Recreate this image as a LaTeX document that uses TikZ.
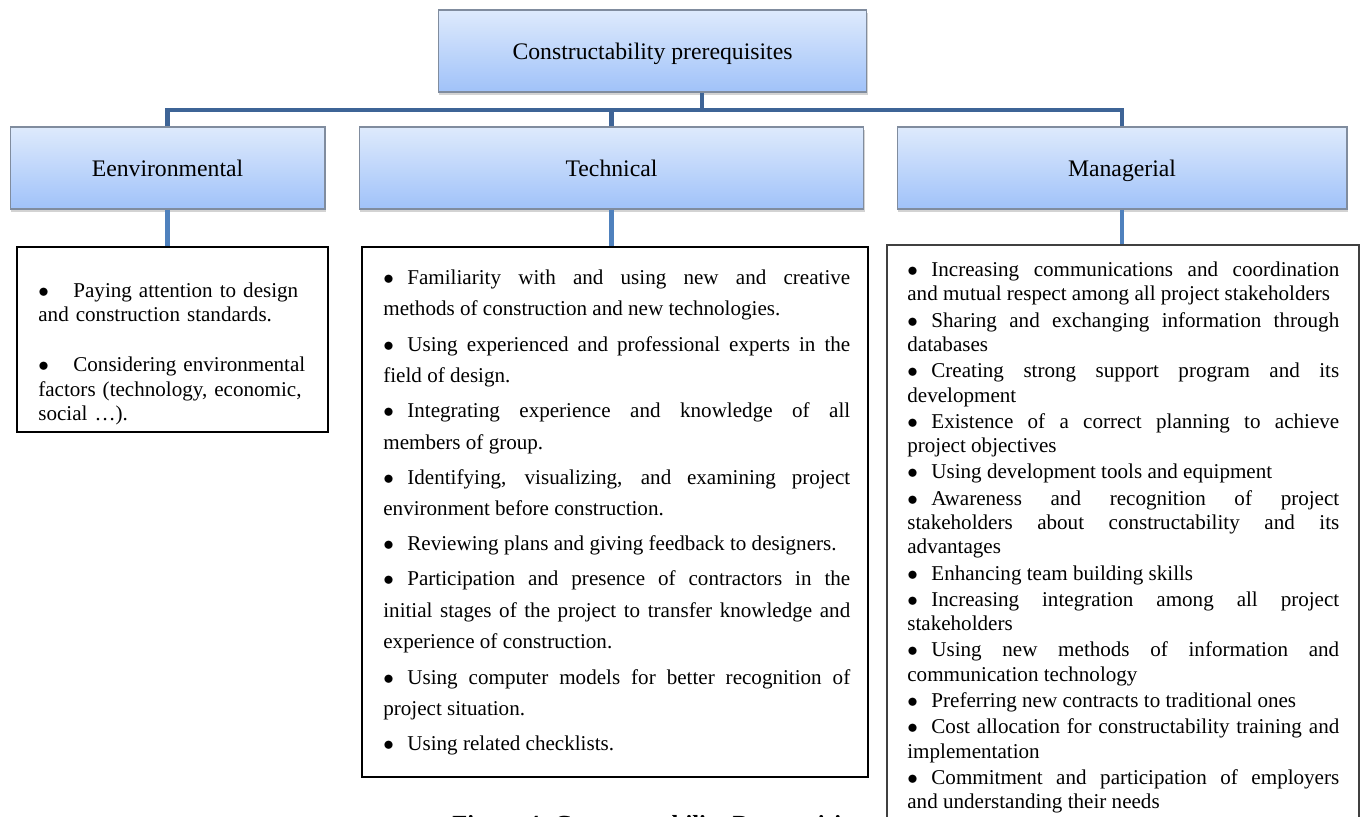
\documentclass[tikz,border=0pt]{standalone}
\usepackage{fontspec}
\setmainfont{Liberation Serif}
\usetikzlibrary{shadows}

\definecolor{boxtop}{RGB}{222,234,252}
\definecolor{boxbottom}{RGB}{160,194,249}
\definecolor{boxline}{RGB}{128,140,158}
\definecolor{busblue}{RGB}{62,100,150}
\definecolor{stemblue}{RGB}{79,129,189}

\newcommand{\bul}{$\bullet$\hspace{0.27cm}}

\begin{document}
\begin{tikzpicture}[x=0.02cm,y=-0.02cm,
    head/.style={draw=boxline, line width=0.6pt, top color=boxtop, bottom color=boxbottom,
      minimum height=1.64cm, font=\fontsize{13.5}{16}\selectfont, text height=9.3pt, text depth=0pt,
      drop shadow={opacity=0.35, shadow xshift=0.8pt, shadow yshift=-1.8pt}},
    listbox/.style={draw, line width=0.8pt, fill=white},
    listtext/.style={anchor=north west, inner sep=0pt},
    bus/.style={busblue, line width=2.8pt},
    stem/.style={stemblue, line width=2.8pt}]
  \clip (0,0) rectangle (1362,817);

  % headings
  \node[head, minimum width=8.58cm] (top) at (652.5,51) {Constructability prerequisites};
  \node[head, minimum width=6.3cm] (env) at (167.5,168) {Eenvironmental};
  \node[head, minimum width=10.1cm] (tech) at (611.5,168) {Technical};
  \node[head, minimum width=9cm] (mgr) at (1122,168) {Managerial};

  \coordinate (split) at (702,110);
  \draw[bus] (top.south -| split) -- (split);
  \draw[bus] (env.north) |- (split) -| (mgr.north);
  \draw[bus] (tech.north) -- (tech.north |- split);

  \node[font=\bfseries\fontsize{14}{16}\selectfont, anchor=base west, inner sep=0pt] (caption)
    at (452,832) {Figure 4. Constructability Prerequisites};

  % lists
  \node[listbox, minimum width=6.22cm, minimum height=3.7cm] (envlist) at (172.5,339.5) {};
  \node[listbox, minimum width=10.12cm, minimum height=10.6cm] (techlist) at (615,512) {};
  \node[listbox, draw=black!75, minimum width=9.44cm, minimum height=11.9cm] (mgrlist) at (1123,542.5) {};

  \draw[stem] (env.south) -- (env.south |- envlist.north);
  \draw[stem] (tech.south) -- (tech.south |- techlist.north);
  \draw[stem] (mgr.south) -- (mgr.south |- mgrlist.north);

  \node[listtext, text width=5.6cm, align=left, font=\fontsize{12}{13.8}\selectfont] (envtext) at (38,282.5)
    {$\bullet$\hspace{0.49cm}Paying attention to design\\
     and construction standards.\\[14.8pt]
     $\bullet$\hspace{0.49cm}Considering environmental\\
     factors (technology, economic,\\
     social …).};

  \node[listtext, text width=9.34cm, align=justify, font=\fontsize{12}{17.9}\selectfont] (techtext) at (383,269.5)
    {\parindent=0pt\parskip=2.1pt\hyphenpenalty=10000\tolerance=10000\hbadness=10000
     \bul Familiarity with and using new and creative\linebreak methods of construction and new technologies.\par
     \bul Using experienced and professional experts in the\linebreak field of design.\par
     \bul Integrating experience and knowledge of all\linebreak members of group.\par
     \bul Identifying, visualizing, and examining project\linebreak environment before construction.\par
     \bul Reviewing plans and giving feedback to designers.\par
     \bul Participation and presence of contractors in the\linebreak initial stages of the project to transfer knowledge and\linebreak experience of construction.\par
     \bul Using computer models for better recognition of\linebreak project situation.\par
     \bul Using related checklists.};

  \node[listtext, text width=8.64cm, align=justify, font=\fontsize{12}{13.9}\selectfont] (mgrtext) at (907,261.5)
    {\parindent=0pt\parskip=1pt\hyphenpenalty=10000\tolerance=10000\hbadness=10000
     \bul Increasing communications and coordination\linebreak and mutual respect among all project stakeholders\par
     \bul Sharing and exchanging information through\linebreak databases\par
     \bul Creating strong support program and its\linebreak development\par
     \bul Existence of a correct planning to achieve\linebreak project objectives\par
     \bul Using development tools and equipment\par
     \bul Awareness and recognition of project\linebreak stakeholders about constructability and its\linebreak advantages\par
     \bul Enhancing team building skills\par
     \bul Increasing integration among all project\linebreak stakeholders\par
     \bul Using new methods of information and\linebreak communication technology\par
     \bul Preferring new contracts to traditional ones\par
     \bul Cost allocation for constructability training and\linebreak implementation\par
     \bul Commitment and participation of employers\linebreak and understanding their needs};
\end{tikzpicture}
\end{document}
